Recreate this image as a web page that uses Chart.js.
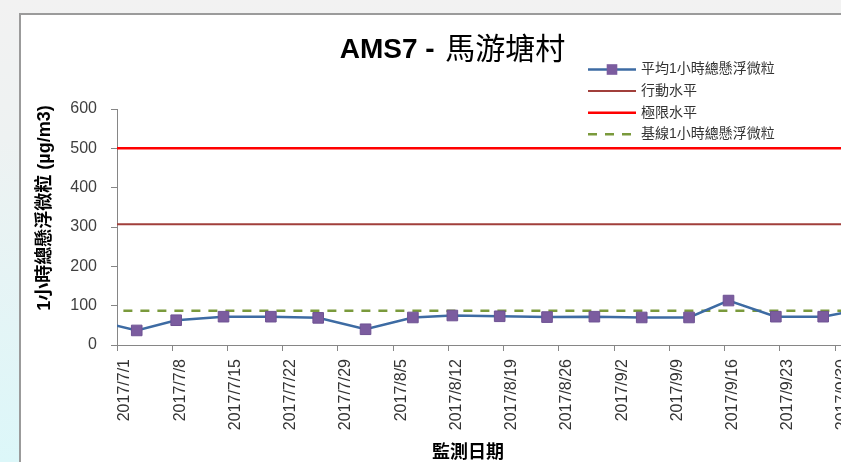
<!DOCTYPE html>
<html>
<head>
<meta charset="utf-8">
<script src="https://cdn.jsdelivr.net/npm/chart.js@4.4.0/dist/chart.umd.min.js"></script>
<style>
  html, body { margin: 0; padding: 0; }
  body {
    width: 841px; height: 462px; overflow: hidden; position: relative;
    background: linear-gradient(to bottom, #f2f2f2 0%, #eef2f2 30%, #dcf7f9 100%);
  }
  #frame {
    position: absolute; left: 19px; top: 13px; width: 900px; height: 500px;
    background: #fff; border-left: 2px solid #9b9b9b; border-top: 2px solid #9b9b9b;
  }
  canvas { display: block; }
</style>
</head>
<body>
<div id="frame"><canvas id="tspChart" width="880" height="470"></canvas></div>
<script>
// --- datos ---
const startDate = '2017-07-01';
const dates = ['2017-06-27', '2017-07-03', '2017-07-08', '2017-07-14', '2017-07-20', '2017-07-26',
  '2017-08-01', '2017-08-07', '2017-08-12', '2017-08-18', '2017-08-24', '2017-08-30',
  '2017-09-05', '2017-09-11', '2017-09-16', '2017-09-22', '2017-09-28', '2017-10-04'];
const tspValues = [66, 37, 63, 72, 72, 69, 40, 70, 75, 73, 71, 72, 70, 70, 113, 72, 72, 95];
const actionLevel = 307;
const limitLevel = 500;
const baselineLevel = 87;
const seriesNames = ['平均1小時總懸浮微粒', '行動水平', '極限水平', '基線1小時總懸浮微粒'];
const titleLatin = 'AMS7 - ';
const titleCjk = '馬游塘村';
const yTitle = '1小時總懸浮微粒 (µg/m3)';
const xTitle = '監測日期';

const DAY = 864e5;
const t0 = Date.parse(startDate);
// Excel date axis: each date sits in the middle of its day slot
const dayOf = s => (Date.parse(s) - t0) / DAY + 0.5;
const xs = dates.map(dayOf);
const pts = vals => xs.map((x, i) => ({ x: x, y: vals[i] }));

const FONT = '"Liberation Sans", "Noto Sans CJK TC", sans-serif';

// titulos y leyenda dibujados en posiciones fijas
const textLayer = {
  id: 'textLayer',
  afterDraw(chart) {
    const ctx = chart.ctx;
    ctx.save();
    ctx.fillStyle = '#000';
    ctx.textBaseline = 'alphabetic';
    ctx.font = 'bold 28px ' + FONT;
    const w1 = ctx.measureText(titleLatin).width + 3;
    ctx.font = '30px ' + FONT;
    const w2 = ctx.measureText(titleCjk).width;
    let tx = 431.5 - (w1 + w2) / 2;
    ctx.textAlign = 'left';
    ctx.font = 'bold 28px ' + FONT;
    ctx.fillText(titleLatin, tx, 43);
    ctx.font = '30px ' + FONT;
    ctx.fillText(titleCjk, tx + w1, 44);

    // eje y
    ctx.save();
    ctx.translate(24, 193);
    ctx.rotate(-Math.PI / 2);
    ctx.textAlign = 'center';
    ctx.textBaseline = 'middle';
    ctx.font = 'bold 18px ' + FONT;
    ctx.fillText(yTitle, 0, 0);
    ctx.restore();

    // eje x
    ctx.textAlign = 'center';
    ctx.textBaseline = 'middle';
    ctx.font = 'bold 18px ' + FONT;
    ctx.fillText(xTitle, 447, 438);

    // leyenda
    ctx.textAlign = 'left';
    ctx.font = '14px ' + FONT;
    chart.data.datasets.forEach((ds, i) => {
      const y = 54.5 + i * 21.6;
      ctx.beginPath();
      ctx.strokeStyle = ds.borderColor;
      ctx.lineWidth = ds.borderWidth;
      ctx.setLineDash(ds.borderDash || []);
      ctx.moveTo(567, y);
      ctx.lineTo(615, y);
      ctx.stroke();
      ctx.setLineDash([]);
      if (ds.pointRadius > 0) {
        const s = Math.SQRT1_2 * ds.pointRadius;
        ctx.fillStyle = ds.pointBackgroundColor;
        ctx.fillRect(591 - s, y - s, 2 * s, 2 * s);
      }
      ctx.fillStyle = '#333';
      ctx.fillText(ds.label, 620, y);
    });
    ctx.restore();
  }
};

const ctx = document.getElementById('tspChart').getContext('2d');
new Chart(ctx, {
  type: 'line',
  data: {
    datasets: [{
      label: seriesNames[0],
      data: pts(tspValues),
      borderColor: '#3d6ba3',
      borderWidth: 2.5,
      pointStyle: 'rect',
      pointRadius: 7.5,
      pointBackgroundColor: '#7b5c9f',
      pointBorderColor: '#6e5293',
      pointBorderWidth: 1,
      tension: 0
    }, {
      label: seriesNames[1],
      data: pts(dates.map(() => actionLevel)),
      borderColor: '#a13f3b',
      borderWidth: 2,
      pointRadius: 0
    }, {
      label: seriesNames[2],
      data: pts(dates.map(() => limitLevel)),
      borderColor: '#ff0000',
      borderWidth: 2.5,
      pointRadius: 0
    }, {
      label: seriesNames[3],
      data: pts(dates.map(() => baselineLevel)),
      borderColor: '#7a9a3c',
      borderWidth: 2.5,
      borderDash: [9, 8],
      pointRadius: 0
    }]
  },
  options: {
    responsive: false,
    animation: false,
    layout: { padding: { top: 94, left: 0, right: 34.4, bottom: 0 } },
    plugins: {
      legend: { display: false },
      title: { display: false },
      tooltip: { enabled: false }
    },
    scales: {
      x: {
        type: 'linear',
        min: 0,
        max: 95,
        afterFit: s => { s.height = 140; },
        border: { color: '#868686', width: 1 },
        grid: { drawOnChartArea: false, tickLength: 6, color: '#868686' },
        ticks: {
          stepSize: 7,
          includeBounds: false,
          autoSkip: false,
          minRotation: 90,
          maxRotation: 90,
          padding: 8,
          labelOffset: 8,
          color: '#333',
          font: { family: FONT, size: 16 },
          callback: v => {
            const d = new Date(t0 + v * DAY);
            return d.getUTCFullYear() + '/' + (d.getUTCMonth() + 1) + '/' + d.getUTCDate();
          }
        }
      },
      y: {
        min: 0,
        max: 600,
        afterFit: s => { s.width = 96; },
        border: { color: '#868686', width: 1 },
        grid: { drawOnChartArea: false, tickLength: 6, color: '#868686' },
        ticks: {
          stepSize: 100,
          padding: 14,
          color: '#404040',
          font: { family: FONT, size: 16 }
        }
      }
    }
  },
  plugins: [textLayer]
});
</script>
</body>
</html>
